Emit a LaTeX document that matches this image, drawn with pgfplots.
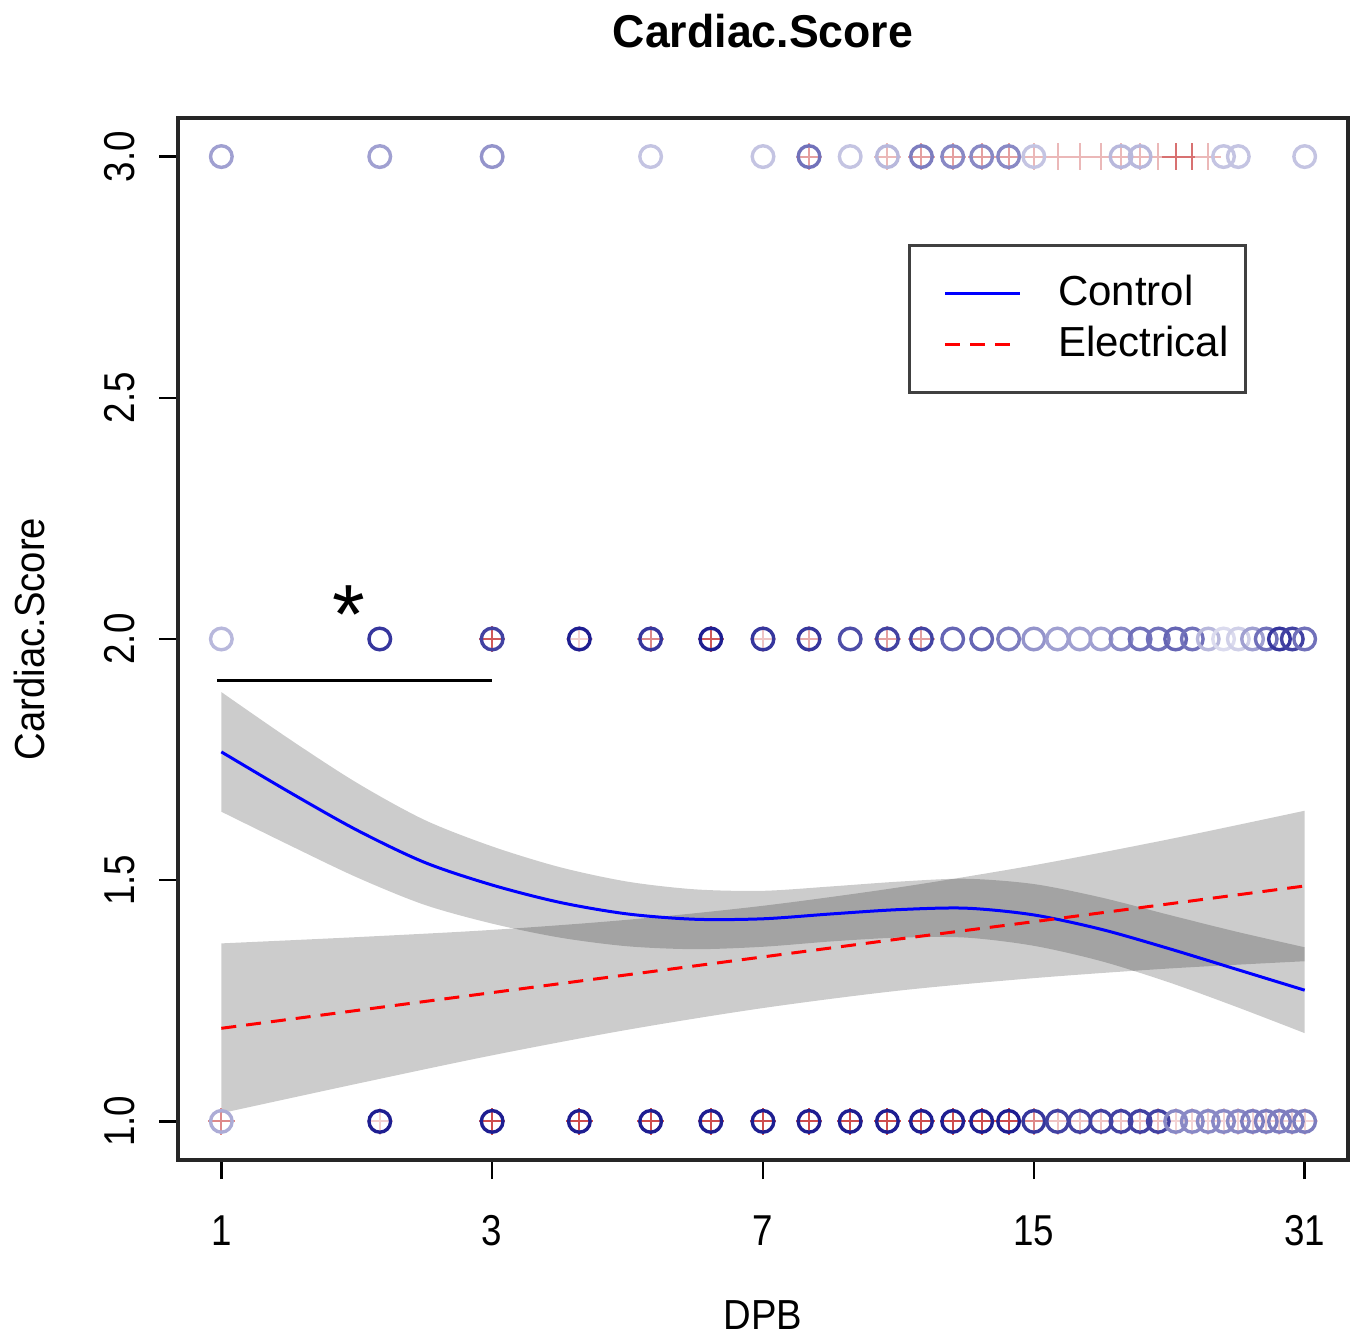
\documentclass[border=0pt]{standalone}
\usepackage{fontspec}
\setmainfont{Liberation Sans}
\newfontfamily\narrowfont[FakeStretch=0.85]{Liberation Sans}
\newfontfamily\labelfont[FakeStretch=0.91]{Liberation Sans}
\newfontfamily\titlefont[FakeStretch=0.97]{Liberation Sans}
\usepackage{pgfplots}
\usepackage{pgfplotstable}
\pgfplotsset{compat=1.18}
\usepgfplotslibrary{fillbetween}

\definecolor{ptblue}{RGB}{20,20,140}
\definecolor{ptred}{RGB}{190,20,20}
% a point's darkness a = its colour mixed a parts into white
\pgfplotsset{
    colormap={ctrlmap}{color=(white) color=(ptblue)},
    colormap={elecmap}{color=(white) color=(ptred)},
}

% u = log2(DPB+1), so DPB 1,3,7,15,31 sit at u = 1..5
% a = how dark the point looks (many animals on the same spot)
\pgfplotstableread{
dpb u score a
1 1 3 0.4
2 1.585 3 0.4
3 2 3 0.45
5 2.585 3 0.25
7 3 3 0.25
8 3.1699 3 0.6
9 3.3219 3 0.25
10 3.4594 3 0.3
11 3.585 3 0.55
12 3.7004 3 0.5
13 3.8074 3 0.5
14 3.9069 3 0.5
15 4 3 0.25
19 4.3219 3 0.3
20 4.3923 3 0.3
25 4.7004 3 0.25
26 4.7549 3 0.25
31 5 3 0.25
1 1 2 0.3
2 1.585 2 0.85
3 2 2 0.8
4 2.3219 2 0.95
5 2.585 2 0.85
6 2.8074 2 0.95
7 3 2 0.85
8 3.1699 2 0.85
9 3.3219 2 0.75
10 3.4594 2 0.8
11 3.585 2 0.8
12 3.7004 2 0.65
13 3.8074 2 0.65
14 3.9069 2 0.55
15 4 2 0.45
16 4.0875 2 0.4
17 4.1699 2 0.4
18 4.2479 2 0.4
19 4.3219 2 0.5
20 4.3923 2 0.6
21 4.4594 2 0.6
22 4.5236 2 0.65
23 4.585 2 0.6
24 4.6439 2 0.3
25 4.7004 2 0.15
26 4.7549 2 0.2
27 4.8074 2 0.4
28 4.858 2 0.6
29 4.9069 2 0.85
30 4.9542 2 0.8
31 5 2 0.6
1 1 1 0.35
2 1.585 1 0.95
3 2 1 0.95
4 2.3219 1 0.95
5 2.585 1 0.95
6 2.8074 1 0.95
7 3 1 0.95
8 3.1699 1 0.95
9 3.3219 1 0.95
10 3.4594 1 0.95
11 3.585 1 0.95
12 3.7004 1 0.95
13 3.8074 1 0.95
14 3.9069 1 0.95
15 4 1 0.85
16 4.0875 1 0.8
17 4.1699 1 0.8
18 4.2479 1 0.8
19 4.3219 1 0.8
20 4.3923 1 0.8
21 4.4594 1 0.8
22 4.5236 1 0.5
23 4.585 1 0.5
24 4.6439 1 0.5
25 4.7004 1 0.5
26 4.7549 1 0.5
27 4.8074 1 0.55
28 4.858 1 0.55
29 4.9069 1 0.55
30 4.9542 1 0.55
31 5 1 0.55
}\ctrlpts

\pgfplotstableread{
dpb u score a
8 3.1699 3 0.4
10 3.4594 3 0.3
11 3.585 3 0.4
12 3.7004 3 0.4
13 3.8074 3 0.4
14 3.9069 3 0.4
15 4 3 0.3
16 4.0875 3 0.3
17 4.1699 3 0.3
18 4.2479 3 0.3
19 4.3219 3 0.3
20 4.3923 3 0.3
21 4.4594 3 0.3
22 4.5236 3 0.6
23 4.585 3 0.6
24 4.6439 3 0.3
3 2 2 0.7
4 2.3219 2 0.2
5 2.585 2 0.5
6 2.8074 2 0.7
7 3 2 0.25
8 3.1699 2 0.35
10 3.4594 2 0.4
11 3.585 2 0.4
1 1 1 0.5
2 1.585 1 0.2
3 2 1 0.75
4 2.3219 1 0.75
5 2.585 1 0.75
6 2.8074 1 0.75
7 3 1 0.75
8 3.1699 1 0.75
9 3.3219 1 0.75
10 3.4594 1 0.75
11 3.585 1 0.75
12 3.7004 1 0.75
13 3.8074 1 0.75
14 3.9069 1 0.75
15 4 1 0.5
16 4.0875 1 0.25
17 4.1699 1 0.25
18 4.2479 1 0.25
19 4.3219 1 0.25
20 4.3923 1 0.25
21 4.4594 1 0.25
22 4.5236 1 0.18
23 4.585 1 0.18
24 4.6439 1 0.18
25 4.7004 1 0.18
26 4.7549 1 0.18
27 4.8074 1 0.18
28 4.858 1 0.18
29 4.9069 1 0.18
30 4.9542 1 0.18
31 5 1 0.18
}\elecpts

% fitted curves and their bands
\pgfplotstableread{
u fit lo hi
1.00 1.766 1.642 1.890
1.25 1.683 1.573 1.793
1.50 1.604 1.506 1.702
1.75 1.537 1.449 1.625
2.00 1.490 1.410 1.570
2.25 1.454 1.381 1.527
2.50 1.430 1.363 1.497
2.75 1.419 1.357 1.481
3.00 1.420 1.362 1.478
3.25 1.430 1.373 1.487
3.50 1.439 1.381 1.497
3.75 1.442 1.381 1.503
4.00 1.428 1.364 1.492
4.25 1.398 1.332 1.464
4.50 1.358 1.288 1.428
4.75 1.315 1.237 1.393
5.00 1.272 1.183 1.361
}\ctrlfit

\pgfplotstableread{
u fit lo hi
1.0 1.193 1.017 1.369
1.5 1.230 1.078 1.382
2.0 1.267 1.137 1.397
2.5 1.304 1.190 1.418
3.0 1.341 1.235 1.447
3.5 1.378 1.271 1.485
4.0 1.414 1.297 1.531
4.5 1.451 1.317 1.585
5.0 1.488 1.332 1.644
}\elecfit

\begin{document}
\begin{tikzpicture}
\begin{axis}[
    name=ax,
    scale only axis,
    width=292.5pt, height=260.5pt,
    xmin=0.84, xmax=5.16, ymin=0.92, ymax=3.08,
    xtick={1,2,3,4,5}, xticklabels={1,3,7,15,31},
    ytick={1,1.5,2,2.5,3},
    font=\fontsize{10.5}{12.6}\selectfont,
    tick label style={font=\fontsize{10.8}{12.6}\narrowfont},
    label style={font=\fontsize{10.5}{12.6}\labelfont},
    /pgf/number format/assume math mode=true,
    yticklabel style={rotate=90, anchor=base, inner sep=0pt,
        /pgf/number format/fixed, /pgf/number format/fixed zerofill,
        /pgf/number format/precision=1},
    xticklabel style={anchor=base, inner sep=0pt},
    yticklabel shift=6pt,
    xticklabel shift=16.5pt,
    tick align=outside,
    xtick pos=lower, ytick pos=left,
    major tick length=4.75pt,
    tick style={black, line width=0.6pt},
    axis line style={black!85, line width=0.9pt},
    title={\fontsize{11.5}{13}\titlefont\bfseries Cardiac.Score},
    every axis title shift=0pt,
    title style={at={(axis description cs:0.5,1.0681)}, anchor=base},
    xlabel={DPB},
    xlabel style={at={(axis description cs:0.5,-0.1631)}, anchor=base},
    ylabel={Cardiac.Score},
    ylabel style={at={(axis description cs:-0.1137,0.5)}, anchor=base},
    point meta min=0, point meta max=1,
    legend cell align=left,
    legend style={at={(axis description cs:0.9137,0.879)}, anchor=north east,
        draw=black!75, line width=0.75pt, fill=white,
        inner xsep=4.25pt, inner ysep=5.6pt, row sep=0pt,
        nodes={inner sep=0pt, text height=9.5pt, text depth=3.25pt}},
    legend image code/.code={
        \path[draw=none] (-4.75pt,0pt) -- (28.25pt,0pt);
        \draw[#1] (0pt,0pt) -- (18.75pt,0pt);},
]

% confidence bands
\addplot[name path=cH, draw=none, smooth, forget plot] table[x=u, y=hi] {\ctrlfit};
\addplot[name path=cL, draw=none, smooth, forget plot] table[x=u, y=lo] {\ctrlfit};
\addplot[fill=black, fill opacity=0.2, draw=none, forget plot] fill between[of=cH and cL];
\addplot[name path=eH, draw=none, smooth, forget plot] table[x=u, y=hi] {\elecfit};
\addplot[name path=eL, draw=none, smooth, forget plot] table[x=u, y=lo] {\elecfit};
\addplot[fill=black, fill opacity=0.2, draw=none, forget plot] fill between[of=eH and eL];

% raw scores: crosses first, so the circles lie on top
\addplot[scatter, only marks, mark=+, mark size=3.3pt, line width=0.5pt,
    colormap name=elecmap, point meta=explicit,
    scatter/use mapped color={draw=mapped color, fill=none},
    forget plot] table[x=u, y=score, meta=a] {\elecpts};
\addplot[scatter, only marks, mark=o, mark size=2.7pt, line width=0.85pt,
    colormap name=ctrlmap, point meta=explicit,
    scatter/use mapped color={draw=mapped color, fill=none},
    forget plot] table[x=u, y=score, meta=a] {\ctrlpts};

% fits
\addplot[blue, line width=0.75pt, smooth] table[x=u, y=fit] {\ctrlfit};
\addlegendentry{Control}
\addplot[red, line width=0.75pt, dash pattern=on 3.75pt off 2.5pt] table[x=u, y=fit] {\elecfit};
\addlegendentry{Electrical}

% significance mark
\draw[black, line width=0.75pt] (axis cs:0.985,1.913) -- (axis cs:2,1.913);
\node[anchor=base, inner sep=0pt, font=\fontsize{21}{24}\selectfont] at (axis cs:1.469,1.99) {*};
\end{axis}
\pgfresetboundingbox
\path ([xshift=-44.5pt,yshift=-44pt]ax.south west) rectangle ([xshift=2pt,yshift=29.5pt]ax.north east);
\end{tikzpicture}
\end{document}
